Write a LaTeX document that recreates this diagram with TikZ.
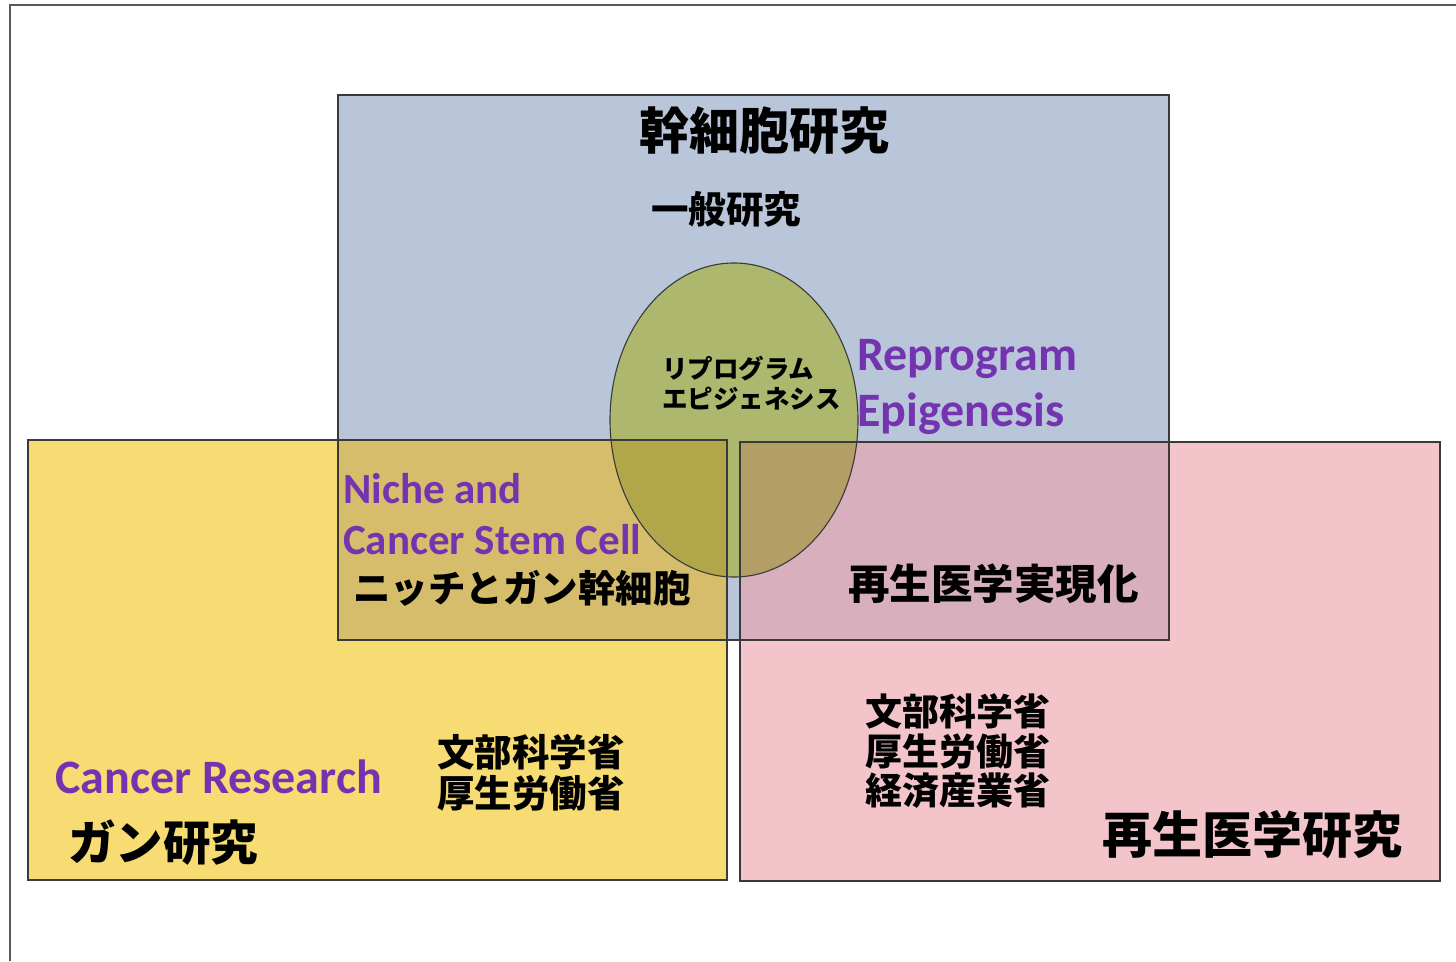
\documentclass[tikz,border=0pt]{standalone}
\usepackage{fontspec}
\newfontfamily\jp{Noto Sans CJK JP}
\newfontfamily\en{Carlito}
\definecolor{cblue}{HTML}{B9C5D9}
\definecolor{cyellow}{HTML}{F6DC72}
\definecolor{cpink}{HTML}{F3C5CB}
\definecolor{cyb}{HTML}{D5BD6C}
\definecolor{cpb}{HTML}{D8AFBC}
\definecolor{cell}{HTML}{AEB76E}
\definecolor{celly}{HTML}{B1A64A}
\definecolor{cellp}{HTML}{B39F66}
\definecolor{enpurple}{HTML}{7434B0}
\definecolor{edge}{HTML}{3A3A3A}
\begin{document}
\begin{tikzpicture}[x=1pt,y=-1pt,
  box/.style={draw=edge, line width=1.1pt},
  jt/.style={inner sep=0pt, anchor=west, text=black},
  et/.style={inner sep=0pt, anchor=base west, text=enpurple,
    font=\en\bfseries\fontsize{43}{43}\selectfont},
  etl/.style={et, font=\en\bfseries\fontsize{48}{48}\selectfont}]
\useasboundingbox (0,0) rectangle (1456,961);
\fill[white] (0,0) rectangle (1456,961);
% scan frame
\draw[gray!70!black, line width=1.4pt] (10,961) -- (10,5) -- (1456,5);
% coordinates of rectangles
\coordinate (b1) at (338,95);  \coordinate (b2) at (1169,640);
\coordinate (y1) at (28,440);  \coordinate (y2) at (727,880);
\coordinate (p1) at (740,442); \coordinate (p2) at (1440,881);
\coordinate (ec) at (734,420);
% fills
\fill[cblue] (b1) rectangle (b2);
\fill[cyellow] (y1) rectangle (y2);
\fill[cpink] (p1) rectangle (p2);
\fill[cyb] (338,440) rectangle (727,640);
\fill[cpb] (740,442) rectangle (1169,640);
\fill[cell] (ec) ellipse [x radius=124, y radius=157];
\begin{scope}
  \clip (y1) rectangle (y2);
  \fill[celly] (ec) ellipse [x radius=124, y radius=157];
\end{scope}
\begin{scope}
  \clip (p1) rectangle (p2);
  \fill[cellp] (ec) ellipse [x radius=124, y radius=157];
\end{scope}
% outlines
\draw[box] (b1) rectangle (b2);
\draw[box] (y1) rectangle (y2);
\draw[box] (p1) rectangle (p2);
\draw[box] (ec) ellipse [x radius=124, y radius=157];
% Japanese texts
\node[jt, anchor=center, font=\jp\bfseries\fontsize{50}{50}\selectfont] (t1) at (764,131) {幹細胞研究};
\node[jt, anchor=center, font=\jp\bfseries\fontsize{37.5}{38}\selectfont] (t2) at (726,209) {一般研究};
\node[jt, font=\jp\bfseries\fontsize{25.5}{26}\selectfont] (t3) at (662,369) {リプログラム};
\node[jt, font=\jp\bfseries\fontsize{25.5}{26}\selectfont] (t4) at (662,399) {エピジェネシス};
\node[jt, font=\jp\bfseries\fontsize{37.5}{38}\selectfont] (t5) at (353,588) {ニッチとガン幹細胞};
\node[jt, font=\jp\bfseries\fontsize{41.5}{42}\selectfont] (t6) at (848,584) {再生医学実現化};
\node[jt, font=\jp\bfseries\fontsize{37.5}{38}\selectfont] (t7) at (437,752) {文部科学省};
\node[jt, font=\jp\bfseries\fontsize{37.5}{38}\selectfont] (t8) at (437,793) {厚生労働省};
\node[jt, font=\jp\bfseries\fontsize{37}{37}\selectfont] (t9) at (865,711) {文部科学省};
\node[jt, font=\jp\bfseries\fontsize{37}{37}\selectfont] (t10) at (865,751) {厚生労働省};
\node[jt, font=\jp\bfseries\fontsize{37}{37}\selectfont] (t11) at (865,791) {経済産業省};
\node[jt, font=\jp\bfseries\fontsize{47.5}{48}\selectfont] (t12) at (68,843) {ガン研究};
\node[jt, font=\jp\bfseries\fontsize{50}{50}\selectfont] (t13) at (1102,835) {再生医学研究};
% English texts
\node[etl] (e1) at (857,370) {Reprogram};
\node[etl] (e2) at (857,426) {Epigenesis};
\node[et] (e3) at (343,503) {Niche and};
\node[et] (e4) at (343,554) {Cancer Stem Cell};
\node[etl] (e5) at (55,793) {Cancer Research};
\end{tikzpicture}
\end{document}
